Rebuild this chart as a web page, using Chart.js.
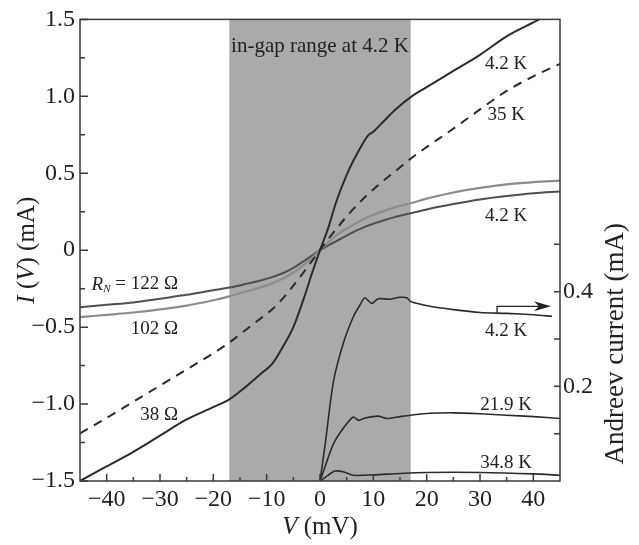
<!DOCTYPE html>
<html>
<head>
<meta charset="utf-8">
<script src="https://cdn.jsdelivr.net/npm/chart.js@4/dist/chart.umd.min.js"></script>
<style>
  body { margin: 0; background: #fff; }
  #wrap { width: 639px; height: 545px; }
</style>
</head>
<body>
<div id="wrap"><canvas id="chartIV" width="639" height="545"></canvas></div>
<script>
// voltage grid (mV) shared by the I-V curves
const vIV = [-45, -40, -35, -30, -25, -20, -17, -14, -11, -9, -7, -5, -3, -1.5, 0,
             1.5, 3, 5, 7, 9, 10, 12, 14, 17, 20, 25, 30, 35, 40, 45];
// I(V) in mA
const i38 = [-1.50, -1.405, -1.31, -1.205, -1.10, -1.02, -0.97, -0.89, -0.80, -0.74, -0.63, -0.50, -0.31, -0.15, 0,
             0.14, 0.31, 0.49, 0.63, 0.745, 0.77, 0.84, 0.91, 0.995, 1.06, 1.165, 1.27, 1.39, 1.48, 1.57];
const i35K = [-1.19, -1.09, -0.985, -0.88, -0.775, -0.67, -0.60, -0.52, -0.44, -0.385, -0.315, -0.23, -0.14, -0.07, 0,
              0.07, 0.135, 0.22, 0.295, 0.365, 0.395, 0.455, 0.51, 0.595, 0.67, 0.79, 0.915, 1.035, 1.13, 1.21];
const i122 = [-0.37, -0.355, -0.34, -0.315, -0.29, -0.26, -0.243, -0.22, -0.195, -0.175, -0.15, -0.115, -0.07, -0.035, 0,
              0.03, 0.058, 0.095, 0.13, 0.16, 0.172, 0.195, 0.215, 0.24, 0.265, 0.30, 0.33, 0.352, 0.37, 0.382];
const i102 = [-0.435, -0.42, -0.405, -0.385, -0.36, -0.325, -0.30, -0.27, -0.24, -0.215, -0.185, -0.145, -0.095, -0.05, 0,
              0.05, 0.095, 0.14, 0.18, 0.215, 0.23, 0.255, 0.278, 0.305, 0.335, 0.375, 0.405, 0.428, 0.442, 0.452];

// Andreev current (mA), right axis
const vA42 = [0, 1, 2.5, 4.4, 6.25, 7.5, 8.4, 9.7, 10.9, 13, 15, 16.3, 17, 20.6, 25, 30, 35, 40, 43.5];
const a42 = [0, 0.08, 0.209, 0.292, 0.347, 0.372, 0.387, 0.375, 0.385, 0.384, 0.388, 0.387, 0.379, 0.369, 0.362, 0.356, 0.354, 0.351, 0.348];
const vA219 = [0, 1, 2.5, 4.4, 6.25, 7.2, 8.5, 10.9, 12.5, 15, 17, 20.6, 25, 30, 35, 40, 45];
const a219 = [0, 0.032, 0.078, 0.112, 0.135, 0.128, 0.133, 0.137, 0.132, 0.136, 0.139, 0.143, 0.144, 0.142, 0.139, 0.136, 0.132];
const vA348 = [0, 1.5, 2.8, 4.5, 6.25, 10, 15, 20, 30, 40, 45];
const a348 = [0, 0.012, 0.021, 0.019, 0.012, 0.013, 0.016, 0.018, 0.018, 0.015, 0.012];

const gapRange = [-17, 17];
const arrowV = [33.2, 43.3];
const arrowA = [0.356, 0.369];

const serif = '"Liberation Serif", "DejaVu Serif", serif';
const ink = '#222';

function pts(xs, ys) { return xs.map((x, i) => ({ x: x, y: ys[i] })); }
function minus(s) { return String(s).replace('-', '\u2212'); }

// draw a string made of parts with different styles
function mixed(ctx, parts, x, y, align) {
    let w = 0;
    parts.forEach(p => { ctx.font = (p.it ? 'italic ' : '') + p.size + 'px ' + serif; p.w = ctx.measureText(p.t).width; w += p.w; });
    let cx = align === 'center' ? x - w / 2 : align === 'right' ? x - w : x;
    ctx.textAlign = 'left';
    ctx.textBaseline = 'middle';
    parts.forEach(p => {
        ctx.font = (p.it ? 'italic ' : '') + p.size + 'px ' + serif;
        ctx.fillText(p.t, cx, y + (p.dy || 0));
        cx += p.w;
    });
}

const decor = {
    id: 'decor',
    beforeDatasetsDraw(chart) {
        const { ctx, chartArea: a, scales: { x } } = chart;
        ctx.save();
        ctx.fillStyle = '#aaaaaa';
        const x0 = x.getPixelForValue(gapRange[0]), x1 = x.getPixelForValue(gapRange[1]);
        ctx.fillRect(x0, a.top, x1 - x0, a.height);
        ctx.restore();
    },
    afterDraw(chart) {
        const { ctx, chartArea: a, scales: { x, y, y2 } } = chart;
        ctx.save();
        // frame and inward ticks
        ctx.strokeStyle = '#3a3a3a';
        ctx.lineWidth = 1.5;
        ctx.strokeRect(a.left, a.top, a.width, a.height);
        ctx.beginPath();
        x.ticks.forEach(t => {
            if (Math.abs(t.value) > 44) return;
            const px = x.getPixelForValue(t.value);
            const len = Math.round(t.value) % 10 === 0 ? 7 : 4;
            ctx.moveTo(px, a.bottom); ctx.lineTo(px, a.bottom - len);
        });
        y.ticks.forEach(t => {
            const py = y.getPixelForValue(t.value);
            const len = Math.abs(Math.round(t.value * 4)) % 2 === 0 ? 8 : 5;
            ctx.moveTo(a.left, py); ctx.lineTo(a.left + len, py);
        });
        y2.ticks.forEach(t => {
            const k = Math.round(t.value * 10);
            if (k < 1 || k > 5) return;
            const py = y2.getPixelForValue(t.value);
            ctx.moveTo(a.right, py); ctx.lineTo(a.right - 6, py);
        });
        ctx.stroke();

        // arrow pointing to the right axis
        ctx.strokeStyle = ink;
        ctx.fillStyle = ink;
        ctx.lineWidth = 1.3;
        const ax0 = x.getPixelForValue(arrowV[0]), ax1 = x.getPixelForValue(arrowV[1]);
        const ay0 = y2.getPixelForValue(arrowA[0]), ay1 = y2.getPixelForValue(arrowA[1]);
        ctx.beginPath();
        ctx.moveTo(ax0, ay0); ctx.lineTo(ax0, ay1); ctx.lineTo(ax1 - 10, ay1);
        ctx.stroke();
        ctx.beginPath();
        ctx.moveTo(ax1, ay1); ctx.lineTo(ax1 - 17, ay1 - 5); ctx.lineTo(ax1 - 12, ay1); ctx.lineTo(ax1 - 17, ay1 + 5);
        ctx.closePath(); ctx.fill();

        // curve labels
        ctx.fillStyle = ink;
        const s = 19;
        mixed(ctx, [{ t: 'in-gap range at 4.2 K', size: 21 }], x.getPixelForValue(0), y.getPixelForValue(1.325), 'center');
        mixed(ctx, [{ t: '4.2 K', size: s }], x.getPixelForValue(34.9), y.getPixelForValue(1.21), 'center');
        mixed(ctx, [{ t: '35 K', size: s }], x.getPixelForValue(34.9), y.getPixelForValue(0.88), 'center');
        mixed(ctx, [{ t: '4.2 K', size: s }], x.getPixelForValue(34.9), y.getPixelForValue(0.225), 'center');
        mixed(ctx, [{ t: 'R', size: s, it: true }, { t: 'N', size: 11, it: true, dy: 5 }, { t: ' = 122 \u03A9', size: s }],
              x.getPixelForValue(-26.6), y.getPixelForValue(-0.223), 'right');
        mixed(ctx, [{ t: '102 \u03A9', size: s }], x.getPixelForValue(-26.6), y.getPixelForValue(-0.51), 'right');
        mixed(ctx, [{ t: '38 \u03A9', size: s }], x.getPixelForValue(-26.6), y.getPixelForValue(-1.07), 'right');
        mixed(ctx, [{ t: '4.2 K', size: s }], x.getPixelForValue(34.9), y2.getPixelForValue(0.317), 'center');
        mixed(ctx, [{ t: '21.9 K', size: s }], x.getPixelForValue(34.9), y2.getPixelForValue(0.161), 'center');
        mixed(ctx, [{ t: '34.8 K', size: s }], x.getPixelForValue(34.9), y2.getPixelForValue(0.037), 'center');

        // axis titles
        const ts = 25;
        mixed(ctx, [{ t: 'V', size: ts, it: true }, { t: ' (mV)', size: ts }], (a.left + a.right) / 2, a.bottom + 46, 'center');
        ctx.save();
        ctx.translate(a.left - 53, (a.top + a.bottom) / 2);
        ctx.rotate(-Math.PI / 2);
        mixed(ctx, [{ t: 'I', size: ts, it: true }, { t: ' (', size: ts }, { t: 'V', size: ts, it: true }, { t: ') (mA)', size: ts }], 0, 0, 'center');
        ctx.restore();
        ctx.save();
        ctx.translate(a.right + 56, y2.getPixelForValue(0.29));
        ctx.rotate(-Math.PI / 2);
        mixed(ctx, [{ t: 'Andreev current (mA)', size: 27 }], 0, 0, 'center');
        ctx.restore();
        ctx.restore();
    }
};

const ctx = document.getElementById('chartIV').getContext('2d');
new Chart(ctx, {
    type: 'scatter',
    data: {
        datasets: [
            { label: '38 Ω, 4.2 K', data: pts(vIV, i38), borderColor: '#2b2b2b', borderWidth: 2, cubicInterpolationMode: 'monotone' },
            { label: '35 K', data: pts(vIV, i35K), borderColor: '#2b2b2b', borderWidth: 2, borderDash: [9, 7], cubicInterpolationMode: 'monotone' },
            { label: '102 Ω', data: pts(vIV, i102), borderColor: '#8c8c8c', borderWidth: 2.2, cubicInterpolationMode: 'monotone' },
            { label: '122 Ω', data: pts(vIV, i122), borderColor: '#4f4f4f', borderWidth: 2, cubicInterpolationMode: 'monotone' },
            { label: 'Andreev 4.2 K', data: pts(vA42, a42), yAxisID: 'y2', borderColor: '#2b2b2b', borderWidth: 1.6, tension: 0.25 },
            { label: 'Andreev 21.9 K', data: pts(vA219, a219), yAxisID: 'y2', borderColor: '#2b2b2b', borderWidth: 1.6, tension: 0.25 },
            { label: 'Andreev 34.8 K', data: pts(vA348, a348), yAxisID: 'y2', borderColor: '#2b2b2b', borderWidth: 1.6, tension: 0.25 }
        ]
    },
    options: {
        responsive: false,
        animation: false,
        showLine: true,
        elements: { point: { radius: 0, hoverRadius: 0 } },
        layout: { padding: { top: 10, left: 0, right: 0, bottom: 0 } },
        plugins: { legend: { display: false }, tooltip: { enabled: false } },
        scales: {
            x: {
                type: 'linear', min: -45, max: 45,
                grid: { display: false, drawTicks: false },
                border: { display: false },
                afterFit: s => { s.height = 64; },
                ticks: {
                    stepSize: 5, autoSkip: false, maxRotation: 0, padding: 4,
                    color: ink, font: { family: serif, size: 24 },
                    callback: v => (Math.round(v) % 10 === 0 && Math.abs(v) < 45) ? minus(Math.round(v)) : ''
                }
            },
            y: {
                type: 'linear', position: 'left', min: -1.5, max: 1.5,
                grid: { display: false, drawTicks: false },
                border: { display: false },
                afterFit: s => { s.width = 80; },
                ticks: {
                    stepSize: 0.25, autoSkip: false, padding: 5,
                    color: ink, font: { family: serif, size: 24 },
                    callback: v => {
                        const k = Math.round(v * 4);
                        if (k % 2 !== 0) return '';
                        if (k === 0) return '0';
                        return minus((k / 4).toFixed(1));
                    }
                }
            },
            y2: {
                type: 'linear', position: 'right', min: 0, max: 0.975,
                grid: { display: false, drawTicks: false },
                border: { display: false },
                afterFit: s => { s.width = 79; },
                ticks: {
                    stepSize: 0.1, autoSkip: false, padding: 3,
                    color: ink, font: { family: serif, size: 24 },
                    callback: v => {
                        const k = Math.round(v * 10);
                        return (k === 2 || k === 4) ? (k / 10).toFixed(1) : '';
                    }
                }
            }
        }
    },
    plugins: [decor]
});
</script>
</body>
</html>
